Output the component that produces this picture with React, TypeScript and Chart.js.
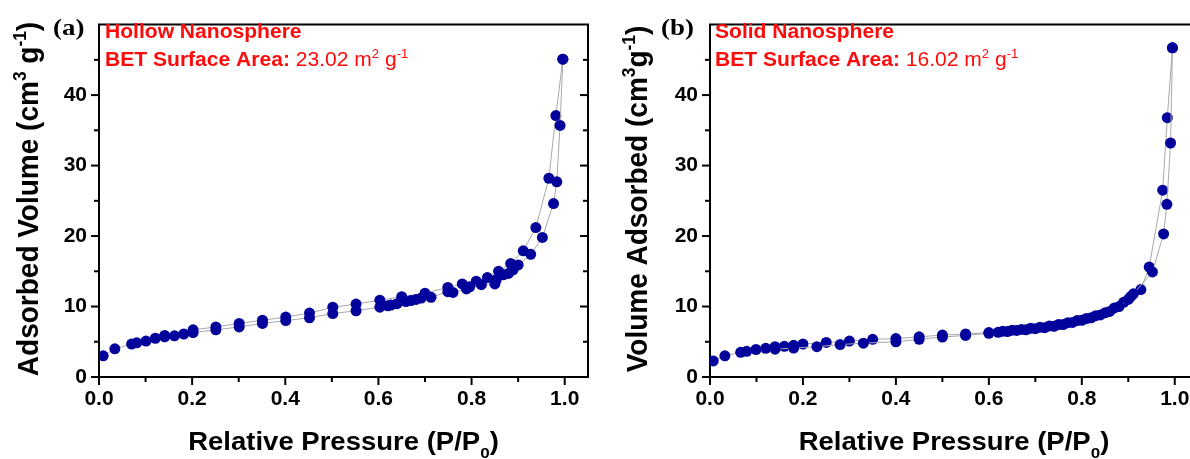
import React, { useEffect, useRef } from "react";
import { Chart, registerables } from "chart.js";

Chart.register(...registerables);

// ---------- data ----------
const xTickValues = [0, 0.2, 0.4, 0.6, 0.8, 1.0];
const xMinorValues = [0.1, 0.3, 0.5, 0.7, 0.9];
const yTickValues = [0, 10, 20, 30, 40];
const yMinorValues = [5, 15, 25, 35, 45];

const hollowAdsX = [0.009, 0.034, 0.07, 0.081, 0.101, 0.121, 0.141, 0.162, 0.182, 0.202, 0.251, 0.301, 0.351, 0.401, 0.452, 0.502, 0.552, 0.603, 0.62, 0.627, 0.64, 0.659, 0.67, 0.681, 0.692, 0.713, 0.749, 0.76, 0.789, 0.796, 0.821, 0.85, 0.853, 0.868, 0.879, 0.889, 0.9, 0.927, 0.952, 0.976, 0.983, 0.99, 0.996];
const hollowAdsY = [3.0, 4.0, 4.67, 4.85, 5.1, 5.5, 5.7, 5.85, 6.1, 6.3, 6.7, 7.1, 7.6, 8.0, 8.4, 9.0, 9.4, 9.9, 10.1, 10.2, 10.4, 10.7, 10.85, 11.0, 11.2, 11.3, 12.1, 12.0, 12.5, 12.8, 13.1, 13.2, 13.8, 14.5, 14.7, 15.2, 15.9, 17.4, 19.8, 24.6, 27.7, 35.7, 45.1];
const hollowDesX = [0.996, 0.981, 0.966, 0.938, 0.911, 0.884, 0.858, 0.834, 0.81, 0.78, 0.749, 0.7, 0.65, 0.603, 0.552, 0.502, 0.452, 0.401, 0.351, 0.301, 0.251, 0.202, 0.141];
const hollowDesY = [45.1, 37.1, 28.2, 21.2, 17.9, 16.1, 15.0, 14.1, 13.6, 13.2, 12.7, 11.9, 11.4, 10.9, 10.35, 9.9, 9.07, 8.5, 8.05, 7.6, 7.1, 6.7, 5.9];

const solidAdsX = [0.007, 0.032, 0.066, 0.079, 0.099, 0.12, 0.14, 0.18, 0.23, 0.28, 0.33, 0.4, 0.45, 0.5, 0.55, 0.6, 0.62, 0.64, 0.66, 0.68, 0.7, 0.72, 0.74, 0.76, 0.78, 0.8, 0.82, 0.84, 0.86, 0.88, 0.9, 0.911, 0.952, 0.976, 0.983, 0.991, 0.995];
const solidAdsY = [2.28, 3.0, 3.5, 3.65, 3.9, 4.07, 3.95, 4.1, 4.3, 4.6, 4.8, 5.0, 5.35, 5.67, 5.9, 6.2, 6.35, 6.45, 6.6, 6.7, 6.85, 7.0, 7.2, 7.45, 7.75, 8.05, 8.4, 8.8, 9.3, 10.0, 11.0, 11.8, 14.9, 20.3, 24.5, 33.2, 46.7];
const solidDesX = [0.995, 0.984, 0.974, 0.945, 0.927, 0.905, 0.89, 0.87, 0.85, 0.83, 0.81, 0.79, 0.77, 0.75, 0.73, 0.71, 0.69, 0.67, 0.65, 0.63, 0.6, 0.55, 0.5, 0.45, 0.4, 0.35, 0.3, 0.25, 0.2, 0.18, 0.16, 0.14];
const solidDesY = [46.7, 36.8, 26.5, 15.6, 12.4, 11.4, 10.6, 9.8, 9.1, 8.7, 8.3, 8.0, 7.7, 7.45, 7.25, 7.05, 6.9, 6.75, 6.65, 6.5, 6.3, 6.1, 5.95, 5.7, 5.45, 5.35, 5.1, 4.9, 4.67, 4.5, 4.35, 4.3];

const SANS = "'Liberation Sans', Arial, sans-serif";
const SERIF = "'Liberation Serif', 'Times New Roman', serif";
const MARKER = "#03039c";
const LINE = "#a8a8a8";
const RED = "#ff0a0a";

type Seg = { t: string; bold?: boolean; sup?: boolean; sub?: boolean };

function layoutSegs(ctx: CanvasRenderingContext2D, segs: Seg[], size: number, family: string) {
  let w = 0;
  const items: any[] = [];
  for (const s of segs) {
    const sz = s.sup || s.sub ? size * 0.62 : size;
    ctx.font = `${s.bold ? "bold " : ""}${sz}px ${family}`;
    const m = ctx.measureText(s.t).width;
    items.push({ ...s, sz, x: w });
    w += m;
  }
  return { items, w };
}

function drawSegs(ctx: CanvasRenderingContext2D, segs: Seg[], size: number, family: string, x0: number) {
  const { items } = layoutSegs(ctx, segs, size, family);
  for (const it of items) {
    ctx.font = `${it.bold ? "bold " : ""}${it.sz}px ${family}`;
    const dy = it.sup ? -size * 0.42 : it.sub ? size * 0.3 : 0;
    ctx.fillText(it.t, x0 + it.x, dy);
  }
}

type PanelProps = {
  left: number;
  width: number;
  axisWidth: number;
  padRight: number;
  adsX: number[];
  adsY: number[];
  desX: number[];
  desY: number[];
  letter: string;
  letterX: number;
  name: string;
  nameX: number;
  bet: string;
  yTitle: Seg[];
  yTitleX: number;
};

function Panel(p: PanelProps) {
  const ref = useRef<HTMLCanvasElement>(null);
  useEffect(() => {
    const canvas = ref.current!;
    const deco = {
      id: "deco",
      afterDraw(chart: any) {
        const { ctx, chartArea: a, scales } = chart;
        const xs = scales.x;
        const ys = scales.y;
        ctx.save();
        ctx.strokeStyle = "#000";
        ctx.lineWidth = 2;
        ctx.beginPath();
        ctx.moveTo(a.left - 1, a.top);
        ctx.lineTo(a.right, a.top);
        ctx.lineTo(a.right, a.bottom + 1);
        ctx.stroke();
        const line = (x1: number, y1: number, x2: number, y2: number) => {
          ctx.beginPath();
          ctx.moveTo(x1, y1);
          ctx.lineTo(x2, y2);
          ctx.stroke();
        };
        for (const v of xTickValues) { const px = xs.getPixelForValue(v); line(px, a.bottom, px, a.bottom + 8); }
        for (const v of xMinorValues) { const px = xs.getPixelForValue(v); line(px, a.bottom, px, a.bottom + 5); }
        for (const v of yTickValues) { const py = ys.getPixelForValue(v); line(a.left, py, a.left - 8, py); line(a.right, py, a.right - 8, py); }
        for (const v of yMinorValues) { const py = ys.getPixelForValue(v); line(a.left, py, a.left - 5, py); line(a.right, py, a.right - 5, py); }

        // axis titles
        ctx.fillStyle = "#000";
        ctx.textBaseline = "alphabetic";
        const xt: Seg[] = [{ t: "Relative Pressure (P/P", bold: true }, { t: "0", bold: true, sub: true }, { t: ")", bold: true }];
        const xl = layoutSegs(ctx, xt, 25, SANS);
        ctx.save();
        ctx.translate((a.left + a.right) / 2, 450);
        ctx.scale(1.1, 1);
        drawSegs(ctx, xt, 25, SANS, -xl.w / 2);
        ctx.restore();

        const yl = layoutSegs(ctx, p.yTitle, 28, SANS);
        ctx.save();
        ctx.translate(p.yTitleX, 199);
        ctx.rotate(-Math.PI / 2);
        ctx.scale(1, 1.04);
        drawSegs(ctx, p.yTitle, 28, SANS, -yl.w / 2);
        ctx.restore();

        // panel letter
        ctx.save();
        ctx.translate(p.letterX, 35);
        ctx.scale(1.12, 1);
        ctx.font = `bold 24px ${SERIF}`;
        ctx.fillText(p.letter, 0, 0);
        ctx.restore();

        // annotations
        ctx.fillStyle = RED;
        ctx.save();
        ctx.translate(p.nameX, 37.5);
        ctx.scale(1.08, 1);
        drawSegs(ctx, [{ t: p.name, bold: true }], 19.5, SANS, 0);
        ctx.restore();
        ctx.save();
        ctx.translate(p.nameX, 66);
        ctx.scale(1.08, 1);
        drawSegs(
          ctx,
          [
            { t: "BET Surface Area:", bold: true },
            { t: " " + p.bet + " m" },
            { t: "2", sup: true },
            { t: " g" },
            { t: "-1", sup: true },
          ],
          19.5,
          SANS,
          0
        );
        ctx.restore();
        ctx.restore();
      },
    };

    const mk = (xv: number[], yv: number[]) => xv.map((x, i) => ({ x, y: yv[i] }));
    const tickFont = { family: SANS, size: 21, weight: "bold" as const };
    const ds = (label: string, data: any[]) => ({
      label,
      data,
      showLine: true,
      borderColor: LINE,
      borderWidth: 1,
      pointRadius: 5.5,
      pointBackgroundColor: MARKER,
      pointBorderColor: MARKER,
      pointBorderWidth: 0,
    });
    const chart = new Chart(canvas, {
      type: "scatter",
      data: {
        datasets: [ds("Adsorption", mk(p.adsX, p.adsY)), ds("Desorption", mk(p.desX, p.desY))],
      },
      options: {
        animation: false,
        responsive: false,
        maintainAspectRatio: false,
        layout: { padding: { left: 0, right: p.padRight, top: 14, bottom: 0 } },
        plugins: { legend: { display: false }, tooltip: { enabled: false } },
        scales: {
          x: {
            type: "linear",
            min: 0,
            max: 1.05,
            grid: { display: false, drawTicks: false },
            border: { display: true, color: "#000", width: 2 },
            afterBuildTicks: (s: any) => { s.ticks = xTickValues.map((v) => ({ value: v })); },
            afterFit: (s: any) => { s.height = 82; },
            ticks: { font: tickFont, color: "#000", padding: 10, maxRotation: 0, callback: (v: any) => Number(v).toFixed(1) },
          },
          y: {
            type: "linear",
            min: 0,
            max: 50,
            grid: { display: false, drawTicks: false },
            border: { display: true, color: "#000", width: 2 },
            afterBuildTicks: (s: any) => { s.ticks = yTickValues.map((v) => ({ value: v })); },
            afterFit: (s: any) => { s.width = p.axisWidth; },
            ticks: { font: tickFont, color: "#000", padding: 12, callback: (v: any) => String(v) },
          },
        },
      },
      plugins: [deco],
    });
    return () => chart.destroy();
  }, []);
  return (
    <canvas
      ref={ref}
      width={p.width}
      height={459}
      style={{ position: "absolute", left: p.left, top: 0, width: p.width, height: 459 }}
    />
  );
}

export default function App() {
  return (
    <div style={{ position: "absolute", left: 0, top: 0, width: 1190, height: 459, overflow: "hidden", background: "#fff" }}>
      <Panel
        left={0}
        width={600}
        axisWidth={99}
        padRight={12}
        adsX={hollowAdsX}
        adsY={hollowAdsY}
        desX={hollowDesX}
        desY={hollowDesY}
        letter="(a)"
        letterX={53}
        name="Hollow Nanosphere"
        nameX={105}
        bet="23.02"
        yTitle={[{ t: "Adsorbed Volume (cm", bold: true }, { t: "3", bold: true, sup: true }, { t: " g", bold: true }, { t: "-1", bold: true, sup: true }, { t: ")", bold: true }]}
        yTitleX={38}
      />
      <Panel
        left={600}
        width={640}
        axisWidth={110}
        padRight={42}
        adsX={solidAdsX}
        adsY={solidAdsY}
        desX={solidDesX}
        desY={solidDesY}
        letter="(b)"
        letterX={61}
        name="Solid Nanosphere"
        nameX={115}
        bet="16.02"
        yTitle={[{ t: "Volume Adsorbed (cm", bold: true }, { t: "3", bold: true, sup: true }, { t: "g", bold: true }, { t: "-1", bold: true, sup: true }, { t: ")", bold: true }]}
        yTitleX={47}
      />
    </div>
  );
}
